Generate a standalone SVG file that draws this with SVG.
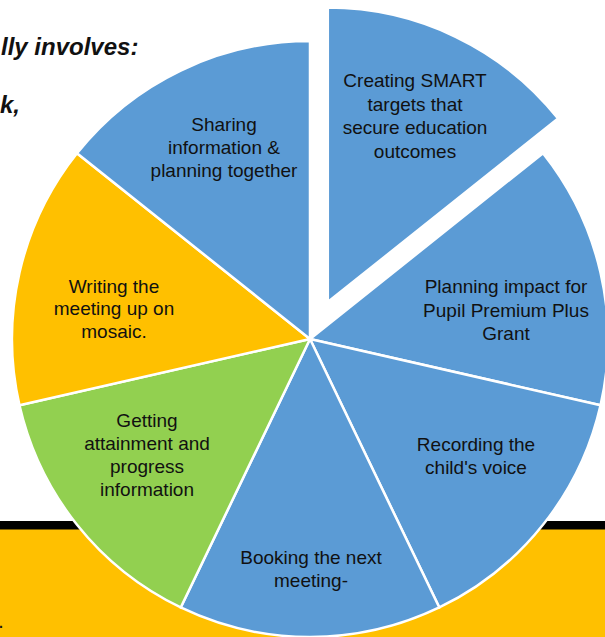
<svg xmlns="http://www.w3.org/2000/svg" width="605" height="637" viewBox="0 0 605 637">
<style>
.slice{stroke:#ffffff;stroke-width:2.5;stroke-linejoin:miter}
.blue{fill:#5B9BD5}
.green{fill:#92D050}
.yellow{fill:#FFC000}
.lbl{font-family:"Liberation Sans",Arial,sans-serif;font-size:19px;fill:#111111;text-anchor:middle}
.head{font-family:"Liberation Sans",Arial,sans-serif;font-size:24px;font-weight:bold;font-style:italic;fill:#111111;text-anchor:start}
</style>
<rect x="0" y="0" width="605" height="637" fill="#ffffff"/>
<g id="background-band">
<rect x="0" y="529" width="605" height="108" fill="#FFC000"/>
<rect x="0" y="521" width="605" height="8.5" fill="#000000"/>
<text x="-1" y="628" style="font-family:'Liberation Sans',Arial,sans-serif;font-size:14px;font-weight:bold;fill:#111">.</text>
</g>
<g id="heading">
<text class="head" x="1" y="55">lly involves:</text>
<text class="head" x="0" y="113">k,</text>
</g>
<g id="pie">
<g id="slice-planning">
<path class="slice blue" d="M310,339 L542.99,153.20 A298,298 0 0 1 600.53,405.31 Z"/>
<text class="lbl" x="506" y="293">Planning impact for</text>
<text class="lbl" x="506" y="316.5">Pupil Premium Plus</text>
<text class="lbl" x="506" y="340">Grant</text>
</g>
<g id="slice-recording">
<path class="slice blue" d="M310,339 L600.53,405.31 A298,298 0 0 1 439.30,607.49 Z"/>
<text class="lbl" x="476" y="451">Recording the</text>
<text class="lbl" x="476" y="473.5">child's voice</text>
</g>
<g id="slice-booking">
<path class="slice blue" d="M310,339 L439.30,607.49 A298,298 0 0 1 180.70,607.49 Z"/>
<text class="lbl" x="311" y="563.5">Booking the next</text>
<text class="lbl" x="311" y="587">meeting-</text>
</g>
<g id="slice-getting">
<path class="slice green" d="M310,339 L180.70,607.49 A298,298 0 0 1 19.47,405.31 Z"/>
<text class="lbl" x="147" y="427">Getting</text>
<text class="lbl" x="147" y="450">attainment and</text>
<text class="lbl" x="147" y="473">progress</text>
<text class="lbl" x="147" y="496">information</text>
</g>
<g id="slice-writing">
<path class="slice yellow" d="M310,339 L19.47,405.31 A298,298 0 0 1 77.01,153.20 Z"/>
<text class="lbl" x="114" y="292.5">Writing the</text>
<text class="lbl" x="114" y="315">meeting up on</text>
<text class="lbl" x="114" y="338">mosaic.</text>
</g>
<g id="slice-sharing">
<path class="slice blue" d="M310,339 L77.01,153.20 A298,298 0 0 1 310,41 Z"/>
<text class="lbl" x="224" y="131">Sharing</text>
<text class="lbl" x="224" y="154">information &amp;</text>
<text class="lbl" x="224" y="177">planning together</text>
</g>
<g id="slice-creating">
<path class="slice blue" d="M327.8,302.1 L327.8,7.6 A294.5,294.5 0 0 1 558.05,118.48 Z"/>
<text class="lbl" x="415" y="87">Creating SMART</text>
<text class="lbl" x="415" y="110.5">targets that</text>
<text class="lbl" x="415" y="134">secure education</text>
<text class="lbl" x="415" y="157.5">outcomes</text>
</g>
</g>
</svg>
